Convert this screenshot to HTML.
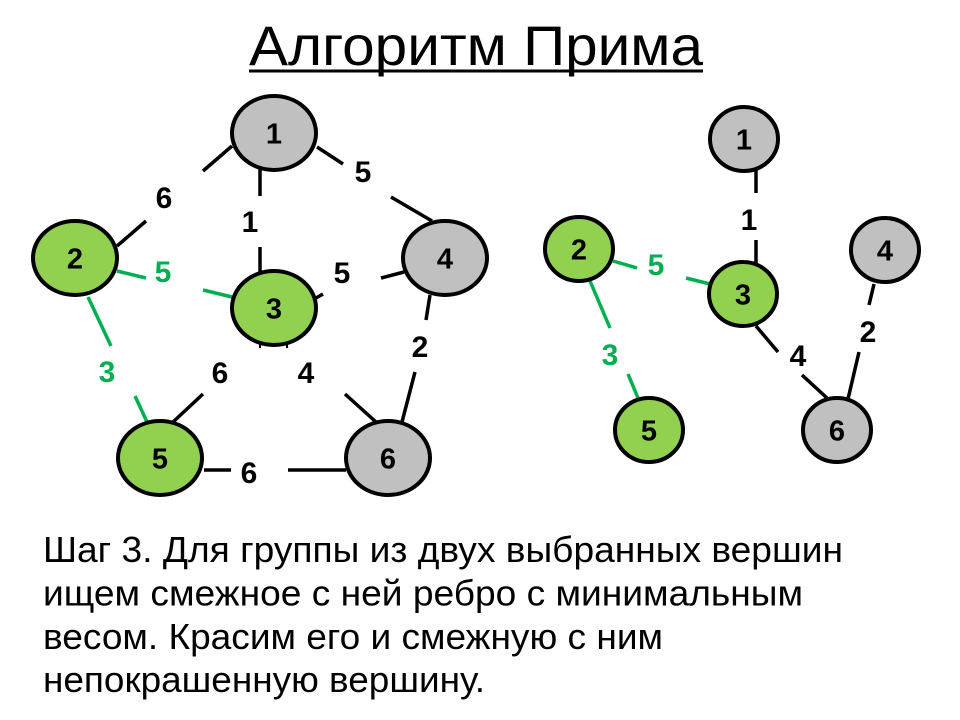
<!DOCTYPE html>
<html><head><meta charset="utf-8"><style>
html,body{margin:0;padding:0;background:#fff;}
svg{display:block;}
text{font-family:"Liberation Sans","DejaVu Sans",sans-serif;}
.n{font-size:29px;font-weight:bold;text-anchor:middle;fill:#000;}
.l{font-size:30px;font-weight:bold;text-anchor:middle;fill:#000;}
.g{fill:#00b050;}
</style></head><body>
<svg width="960" height="720" viewBox="0 0 960 720" xmlns="http://www.w3.org/2000/svg">
<rect width="960" height="720" fill="#fff"/>
<text x="249" y="65" font-size="56" textLength="454" lengthAdjust="spacingAndGlyphs">Алгоритм Прима</text>
<rect x="249" y="69.5" width="454" height="3" fill="#000"/>

<!-- left graph edges -->
<g stroke="#000" stroke-width="3.5" fill="none">
<line x1="232" y1="146" x2="203" y2="171"/><line x1="146" y1="221" x2="117" y2="246"/>
<line x1="260" y1="168" x2="260" y2="196"/><line x1="260" y1="247" x2="260" y2="274"/>
<line x1="317" y1="147" x2="343" y2="164"/><line x1="391" y1="197" x2="432" y2="221"/>
<line x1="381" y1="278" x2="404" y2="272"/><line x1="316" y1="298" x2="323" y2="294"/>
<line x1="203" y1="394" x2="173" y2="422"/>
<line x1="345" y1="394" x2="376" y2="422"/>
<line x1="430" y1="295" x2="426" y2="320"/><line x1="415" y1="372" x2="402" y2="422"/>
<line x1="204" y1="470" x2="231" y2="470"/><line x1="288" y1="470" x2="346" y2="470"/>
<line x1="260" y1="343" x2="260" y2="348" stroke-width="2"/><line x1="287" y1="343" x2="287" y2="348" stroke-width="2"/>
</g>
<g stroke="#00b050" stroke-width="3.5" fill="none">
<line x1="117" y1="271" x2="146" y2="278"/><line x1="203" y1="290" x2="232" y2="297"/>
<line x1="88" y1="297" x2="111" y2="346"/><line x1="135" y1="396" x2="147" y2="422"/>
</g>
<g stroke="#000" stroke-width="4">
<ellipse cx="274" cy="133" rx="42" ry="37" fill="#c0c0c0"/>
<ellipse cx="75" cy="258" rx="42" ry="37" fill="#92d050"/>
<ellipse cx="274" cy="308" rx="42" ry="37" fill="#92d050"/>
<ellipse cx="445" cy="258" rx="42" ry="37" fill="#c0c0c0"/>
<ellipse cx="160" cy="458" rx="42" ry="37" fill="#92d050"/>
<ellipse cx="388" cy="458" rx="42" ry="37" fill="#c0c0c0"/>
</g>
<text class="n" x="274" y="143.5">1</text>
<text class="n" x="75" y="268.5">2</text>
<text class="n" x="274" y="318.5">3</text>
<text class="n" x="445" y="268.5">4</text>
<text class="n" x="160" y="468.5">5</text>
<text class="n" x="388" y="468.5">6</text>
<text class="l" x="164" y="208">6</text>
<text class="l" x="250" y="232">1</text>
<text class="l" x="363" y="182">5</text>
<text class="l g" x="163" y="282">5</text>
<text class="l" x="342" y="283">5</text>
<text class="l g" x="107" y="382">3</text>
<text class="l" x="220" y="383">6</text>
<text class="l" x="306" y="383">4</text>
<text class="l" x="420" y="357">2</text>
<text class="l" x="249" y="483">6</text>

<!-- right graph -->
<g stroke="#000" stroke-width="3.5" fill="none">
<line x1="756" y1="170" x2="756" y2="193"/><line x1="756" y1="240" x2="756" y2="264"/>
<line x1="756" y1="326" x2="778" y2="352"/><line x1="802" y1="375" x2="827" y2="398"/>
<line x1="874" y1="284" x2="869" y2="305"/><line x1="859" y1="352" x2="848" y2="399"/>
</g>
<g stroke="#00b050" stroke-width="3.5" fill="none">
<line x1="613" y1="261" x2="637" y2="268"/><line x1="686" y1="278" x2="710" y2="284"/>
<line x1="590" y1="281" x2="610" y2="328"/><line x1="628" y1="374" x2="638" y2="398"/>
</g>
<g stroke="#000" stroke-width="4">
<ellipse cx="744" cy="139" rx="34" ry="32" fill="#c0c0c0"/>
<ellipse cx="579" cy="249" rx="34" ry="32" fill="#92d050"/>
<ellipse cx="743" cy="294" rx="34" ry="32" fill="#92d050"/>
<ellipse cx="885" cy="250" rx="34" ry="32" fill="#c0c0c0"/>
<ellipse cx="649" cy="430" rx="34" ry="32" fill="#92d050"/>
<ellipse cx="837" cy="430" rx="34" ry="32" fill="#c0c0c0"/>
</g>
<text class="n" x="744" y="149.5">1</text>
<text class="n" x="579" y="259.5">2</text>
<text class="n" x="743" y="304.5">3</text>
<text class="n" x="885" y="260.5">4</text>
<text class="n" x="649" y="440.5">5</text>
<text class="n" x="837" y="440.5">6</text>
<text class="l" x="749" y="230">1</text>
<text class="l g" x="656" y="275">5</text>
<text class="l g" x="610" y="365">3</text>
<text class="l" x="798" y="366">4</text>
<text class="l" x="868" y="342">2</text>

<!-- body text -->
<g font-size="36" fill="#000">
<text x="43" y="562" textLength="800" lengthAdjust="spacingAndGlyphs">Шаг 3. Для группы из двух выбранных вершин</text>
<text x="43" y="605.5" textLength="760" lengthAdjust="spacingAndGlyphs">ищем смежное с ней ребро с минимальным</text>
<text x="43" y="649" textLength="620" lengthAdjust="spacingAndGlyphs">весом. Красим его и смежную с ним</text>
<text x="43" y="692" textLength="442" lengthAdjust="spacingAndGlyphs">непокрашенную вершину.</text>
</g>
</svg>
</body></html>
